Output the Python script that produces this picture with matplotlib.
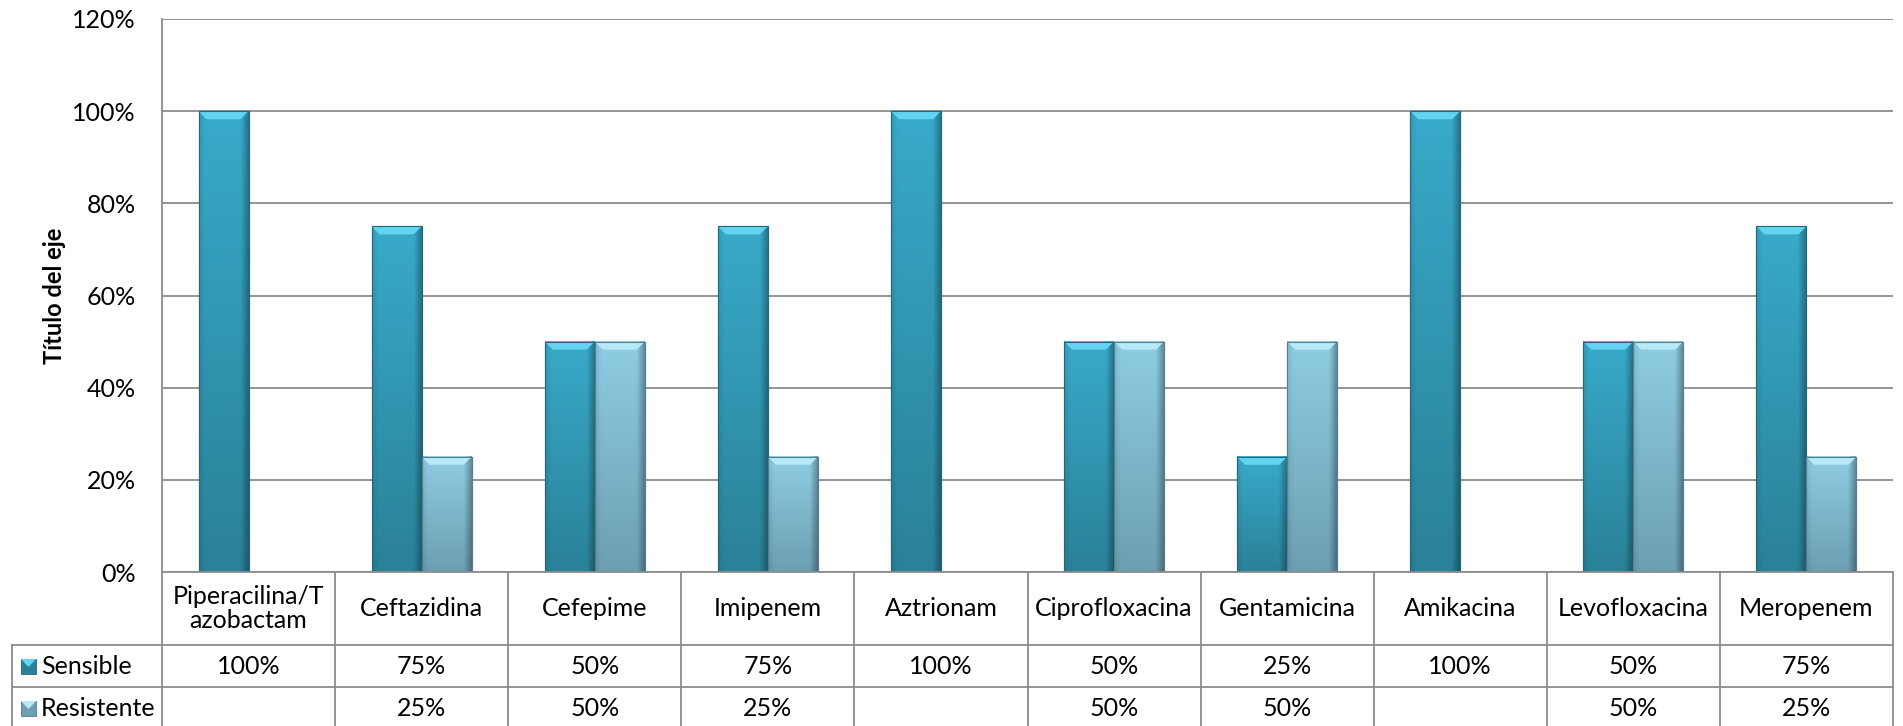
import numpy as np
import matplotlib
matplotlib.use("Agg")
import matplotlib.pyplot as plt
from matplotlib.patches import Polygon, Rectangle
from matplotlib.lines import Line2D
from matplotlib.colors import to_rgb

# ---- data ----
categories = ["Piperacilina/T\nazobactam", "Ceftazidina", "Cefepime", "Imipenem",
              "Aztrionam", "Ciprofloxacina", "Gentamicina", "Amikacina",
              "Levofloxacina", "Meropenem"]
sensible = [1.00, 0.75, 0.50, 0.75, 1.00, 0.50, 0.25, 1.00, 0.50, 0.75]
resistente = [np.nan, 0.25, 0.50, 0.25, np.nan, 0.50, 0.50, np.nan, 0.50, 0.25]
series_names = ["Sensible", "Resistente"]
y_ticks = [0.0, 0.2, 0.4, 0.6, 0.8, 1.0, 1.2]

plt.rcParams["font.family"] = ["Lato", "DejaVu Sans"]
FS = 18

W, H, DPI = 1903, 726, 100
fig = plt.figure(figsize=(W / DPI, H / DPI), dpi=DPI)

# plot area in pixels
PL, PR, PT, PB = 162, 1893, 19, 572
TBL_LEFT = 12
ROW1, ROW2, ROW3 = 645, 687, 729

ax = fig.add_axes([PL / W, 1 - PB / H, (PR - PL) / W, (PB - PT) / H])

n = len(categories)
x = np.arange(n)
bw = 50 / ((PR - PL) / n)  # bar width in category units

styles = {
    "Sensible": dict(top="#38aaca", bottom="#2a8198", bevel="#63d4ef", edge="#24687b"),
    "Resistente": dict(top="#8ecde3", bottom="#6c9fb2", bevel="#b8e9f7", edge="#557f8f"),
}

ax.set_xlim(-0.5, n - 0.5)
ax.set_ylim(0, 1.2)

px_x = (PR - PL) / n            # pixels per x unit
px_y = (PB - PT) / 1.2          # pixels per y unit
bev_dx = 8 / px_x
bev_dy = 8 / px_y


def shaded_image(c_top, c_bot, rows=64, cols=32):
    t = np.linspace(0, 1, rows)[:, None, None]
    top = np.array(to_rgb(c_top))[None, None, :]
    bot = np.array(to_rgb(c_bot))[None, None, :]
    img = top * (1 - t) + bot * t
    u = np.linspace(0, 1, cols)
    shade = np.ones(cols)
    shade = np.where(u < 0.12, 0.92 + 0.08 * u / 0.12, shade)
    shade = np.where(u > 0.85, 1 - 0.3 * (u - 0.85) / 0.15, shade)
    img = img * shade[None, :, None]
    return np.clip(img, 0, 1)


def draw_bars(vals, offset, name):
    st = styles[name]
    bars = ax.bar(x + offset, vals, width=bw, color=st["top"], edgecolor=st["edge"],
                  linewidth=0.8, zorder=3, label=name)
    img = shaded_image(st["top"], st["bottom"])
    for b in bars:
        h = b.get_height()
        if not np.isfinite(h) or h <= 0:
            continue
        x0 = b.get_x()
        x1 = x0 + b.get_width()
        ax.imshow(img, extent=(x0, x1, 0, h), aspect="auto", zorder=3.1,
                  interpolation="bilinear")
        ax.add_patch(Polygon([(x0, h), (x1, h), (x1 - bev_dx, h - bev_dy),
                              (x0 + bev_dx, h - bev_dy)], closed=True,
                             facecolor=st["bevel"], edgecolor="none", zorder=3.2))
        ax.add_patch(Rectangle((x0, 0), x1 - x0, h, facecolor="none",
                               edgecolor=st["edge"], linewidth=0.8, zorder=3.3))


draw_bars(np.array(sensible), -bw / 2, "Sensible")
draw_bars(np.array(resistente), bw / 2, "Resistente")

ax.set_xlim(-0.5, n - 0.5)
ax.set_ylim(0, 1.2)

grid_c = "#8c8c8c"
ax.set_yticks(y_ticks)
ax.set_yticklabels([f"{int(round(v * 100))}%" for v in y_ticks], fontsize=FS)
ax.tick_params(axis="y", length=0, pad=19)
ax.set_xticks([])
ax.yaxis.grid(True, color=grid_c, linewidth=1.3, zorder=0)
ax.set_axisbelow(True)
for s in ["top", "right", "bottom"]:
    ax.spines[s].set_visible(False)
ax.spines["left"].set_color(grid_c)
ax.spines["left"].set_linewidth(1.3)

fig.text(55 / W, 1 - 296 / H, "Título del eje", rotation=90, ha="center",
         va="center", fontsize=17, fontweight="bold")


# ---- data table below the plot ----
def fx(px):
    return px / W


def fy(py):
    return 1 - py / H


def hline(y, x0, x1):
    fig.add_artist(Line2D([fx(x0), fx(x1)], [fy(y), fy(y)], color=grid_c, lw=1.3))


def vline(xp, y0, y1):
    fig.add_artist(Line2D([fx(xp), fx(xp)], [fy(y0), fy(y1)], color=grid_c, lw=1.3))


hline(PB, PL, PR)
hline(ROW1, TBL_LEFT, PR)
hline(ROW2, TBL_LEFT, PR)
vline(TBL_LEFT, ROW1, ROW3)
for k in range(n + 1):
    vline(PL + k * px_x, PB, ROW3)

for i, cat in enumerate(categories):
    cx = PL + (i + 0.5) * px_x
    fig.text(fx(cx), fy((PB + ROW1) / 2), cat, ha="center", va="center",
             fontsize=FS, linespacing=1.1)
    fig.text(fx(cx), fy((ROW1 + ROW2) / 2), f"{int(round(sensible[i] * 100))}%",
             ha="center", va="center", fontsize=FS)
    if np.isfinite(resistente[i]):
        fig.text(fx(cx), fy((ROW2 + ROW3) / 2), f"{int(round(resistente[i] * 100))}%",
                 ha="center", va="center", fontsize=FS)

# legend keys inside the table
for name, (r0, r1) in zip(series_names, [(ROW1, ROW2), (ROW2, ROW3)]):
    st = styles[name]
    cy = (r0 + r1) / 2
    kx0, kx1 = 21, 36
    ky0, ky1 = cy - 7, cy + 8
    fig.add_artist(Rectangle((fx(kx0), fy(ky1)), fx(kx1) - fx(kx0), fy(ky0) - fy(ky1),
                             facecolor=st["bottom"], edgecolor=st["edge"], lw=0.6))
    fig.add_artist(Polygon([(fx(kx0), fy(ky0)), (fx(kx1), fy(ky0)),
                            (fx((kx0 + kx1) / 2), fy(cy + 1))], closed=True,
                           facecolor=st["bevel"], edgecolor="none"))
    fig.text(fx(41), fy(cy), name, ha="left", va="center", fontsize=FS)

fig.savefig("out.png", dpi=DPI)
